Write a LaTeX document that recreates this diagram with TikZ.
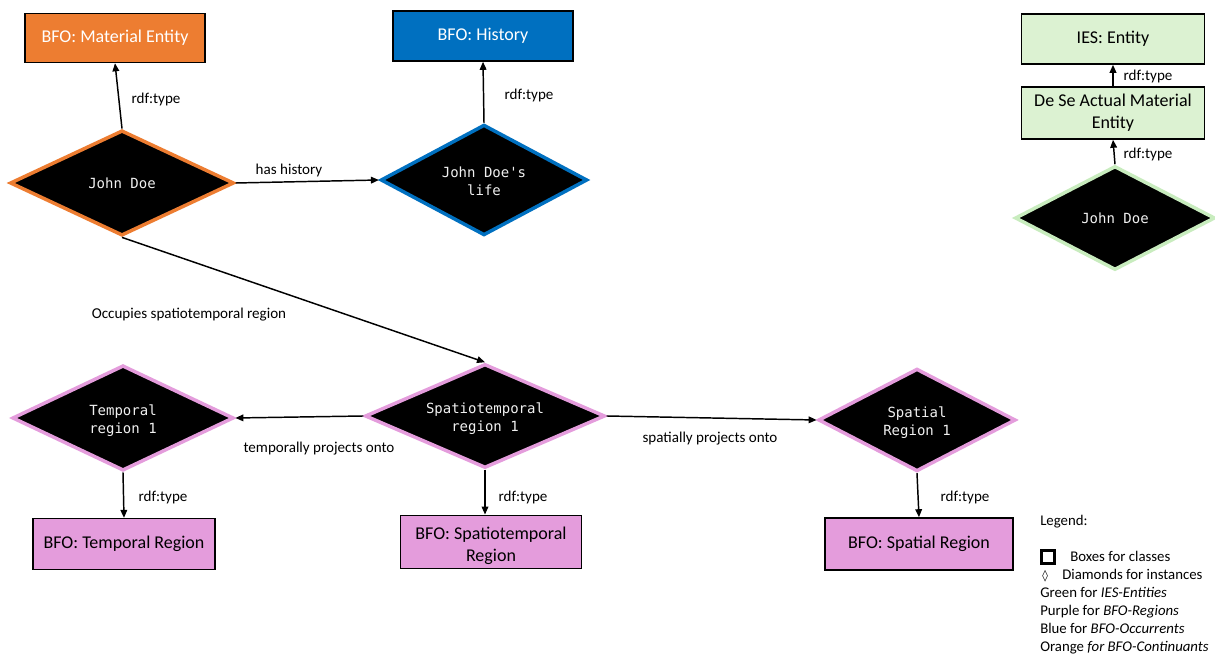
\documentclass[tikz,border=0pt]{standalone}
\usepackage{fontspec}
\setmainfont{Carlito}
\setmonofont{DejaVu Sans Mono}
\newfontfamily\symfont{DejaVu Sans}
\usetikzlibrary{shapes.geometric,arrows.meta}
\definecolor{bfoorange}{HTML}{ED7D31}
\definecolor{bfoblue}{HTML}{0070C0}
\definecolor{regionpink}{HTML}{E49CDC}
\definecolor{iesgreen}{HTML}{DCF2D2}
\definecolor{iesedge}{HTML}{C8ECBE}
\definecolor{instancetext}{HTML}{F0F0F0}

\begin{document}
\begin{tikzpicture}[x=0.75pt,y=-0.75pt,
  classbox/.style={draw=black, line width=1.2pt, inner sep=2pt, align=center,
    font=\fontsize{13.5}{16.5}\selectfont},
  instance/.style={diamond, aspect=2.3, fill=black, line width=2.6pt, inner sep=0pt,
    text=instancetext, align=center, font=\ttfamily\fontsize{10.5}{13.5}\selectfont},
  twolines/.style={text height=24pt, text depth=0pt},
  link/.style={line width=1.1pt, -{Triangle[length=6pt,width=5pt]}},
  lbl/.style={font=\fontsize{11.3}{13}\selectfont, inner sep=0pt},
  legendtext/.style={font=\fontsize{11.1}{13}\selectfont, anchor=base west, inner sep=0pt}]

\useasboundingbox (0,0) rectangle (1215,655);
\clip (0,0) rectangle (1215,655);
\fill[white] (0,0) rectangle (1215,655);

% ---- top row: John Doe and its history ----
\node[classbox, fill=bfoorange, text=white, minimum width=135pt, minimum height=36.75pt]
  (matent) at (115,38) {BFO: Material Entity};
\node[classbox, fill=bfoblue, text=white, minimum width=135pt, minimum height=37.5pt]
  (history) at (483,36) {BFO: History};

\node[instance, draw=bfoorange, minimum width=168pt, minimum height=79pt]
  (jd) at (122,183) {John Doe};
\node[instance, twolines, draw=bfoblue, minimum width=155pt, minimum height=83pt]
  (life) at (484,180) {John Doe's\\life};

\draw[link] (jd.north) -- (matent.south);
\node[lbl] (l1) at (156,99) {rdf:type};
\draw[link] (life.north) -- (history.south);
\node[lbl] (l2) at (529,95) {rdf:type};
\draw[link] (jd.east) -- (life.west);
\node[lbl] (l3) at (289,170) {has history};

% ---- IES view ----
\node[classbox, fill=iesgreen, minimum width=137pt, minimum height=37.5pt]
  (iesent) at (1113,39) {IES: Entity};
\node[classbox, fill=iesgreen, minimum width=137pt, minimum height=39pt]
  (dese) at (1113,113) {De Se Actual Material\\Entity};
\node[instance, draw=iesedge, minimum width=150pt, minimum height=78pt]
  (jdies) at (1115,218) {John Doe};
\draw[link] (dese.north) -- (iesent.south);
\node[lbl] (l4) at (1148,76) {rdf:type};
\draw[link] (jdies.north) -- (dese.south);
\node[lbl] (l5) at (1148,154) {rdf:type};

% ---- regions ----
\node[instance, twolines, draw=regionpink, minimum width=166pt, minimum height=79pt]
  (treg) at (123,418) {Temporal\\region 1};
\node[instance, twolines, draw=regionpink, minimum width=180pt, minimum height=78pt]
  (streg) at (485,416) {Spatiotemporal\\region 1};
\node[instance, twolines, draw=regionpink, minimum width=148pt, minimum height=77pt]
  (sreg) at (917,420) {Spatial\\Region 1};

\node[classbox, fill=regionpink, minimum width=136.5pt, minimum height=38pt]
  (tclass) at (124,544) {BFO: Temporal Region};
\node[classbox, fill=regionpink, text height=32pt, minimum width=136pt, minimum height=40pt]
  (stclass) at (491,542) {BFO: Spatiotemporal\\Region};
\node[classbox, fill=regionpink, minimum width=141pt, minimum height=39pt]
  (sclass) at (919,544) {BFO: Spatial Region};

\draw[link] (jd.south) -- (streg.north);
\node[lbl] (l6) at (189,315) {Occupies spatiotemporal region};
\draw[link] (streg.west) -- (treg.east);
\node[lbl] (l7) at (319,449) {temporally projects onto};
\draw[link] (streg.east) -- (sreg.west);
\node[lbl] (l8) at (710,439) {spatially projects onto};

\draw[link] (treg.south) -- (tclass.north);
\node[lbl] (l9) at (163,497) {rdf:type};
\draw[link] (streg.south) -- (streg.south |- stclass.north);
\node[lbl] (l10) at (523,497) {rdf:type};
\draw[link] (sreg.south) -- (sclass.north);
\node[lbl] (l11) at (965,497) {rdf:type};

% ---- legend ----
\node[legendtext] (lg0) at (1040,526) {Legend:};
\node[draw=black, line width=2pt, minimum size=10pt, inner sep=0pt] (lgbox) at (1048,557) {};
\node[legendtext] (lg1) at (1070,562) {Boxes for classes};
\node[legendtext] (lgdia) at (1042,580) {\symfont\bfseries\fontsize{8.5}{10}\selectfont ◊};
\node[legendtext] (lg2) at (1062,580) {Diamonds for instances};
\node[legendtext] (lg3) at (1040,597.5) {Green for \textit{IES-Entities}};
\node[legendtext] (lg4) at (1040,615.5) {Purple for \textit{BFO-Regions}};
\node[legendtext] (lg5) at (1040,633.5) {Blue for \textit{BFO-Occurrents}};
\node[legendtext] (lg6) at (1040,651.5) {Orange \textit{for BFO-Continuants}};
\end{tikzpicture}
\end{document}
